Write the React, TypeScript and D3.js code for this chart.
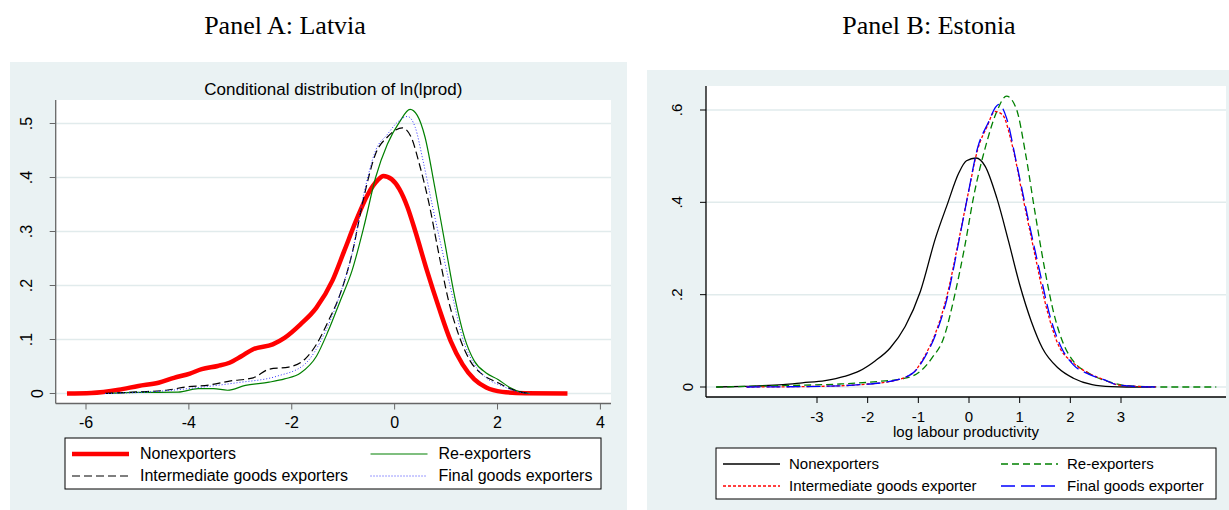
import React from 'react';
import * as d3 from 'd3';

// Panel A: Latvia, conditional distribution of ln(lprod)
const lvNonexporters: [number, number][] = [
  [-6.37, 0], [-5.9, 0.001], [-5.36, 0.007], [-4.98, 0.014], [-4.59, 0.02], [-4.29, 0.029],
  [-3.98, 0.037], [-3.75, 0.045], [-3.44, 0.051], [-3.21, 0.057], [-2.98, 0.069], [-2.75, 0.082],
  [-2.37, 0.091], [-2.14, 0.103], [-1.83, 0.128], [-1.52, 0.159], [-1.21, 0.209], [-0.98, 0.264],
  [-0.75, 0.32], [-0.52, 0.369], [-0.33, 0.395], [-0.22, 0.403], [-0.06, 0.397], [0.09, 0.379],
  [0.25, 0.345], [0.4, 0.301], [0.63, 0.227], [0.86, 0.159], [1.09, 0.097], [1.32, 0.054],
  [1.55, 0.026], [1.78, 0.011], [2.09, 0.003], [2.55, 0.0006], [3.36, 0],
];
const lvReexporters: [number, number][] = [
  [-5.63, 0], [-4.98, 0.002], [-4.21, 0.0025], [-3.82, 0.009], [-3.52, 0.009], [-3.25, 0.006],
  [-2.9, 0.015], [-2.44, 0.021], [-2.14, 0.027], [-1.83, 0.038], [-1.52, 0.069], [-1.29, 0.116],
  [-1.06, 0.171], [-0.83, 0.227], [-0.6, 0.308], [-0.37, 0.4], [-0.14, 0.462], [0.09, 0.502],
  [0.3, 0.526], [0.44, 0.515], [0.59, 0.475], [0.78, 0.382], [0.98, 0.277], [1.17, 0.178],
  [1.36, 0.103], [1.55, 0.06], [1.78, 0.038], [2.01, 0.026], [2.24, 0.011], [2.47, 0.002], [2.63, 0],
];
const lvIntermediate: [number, number][] = [
  [-5.63, 0], [-4.98, 0.003], [-4.44, 0.006], [-4.06, 0.012], [-3.59, 0.016], [-3.21, 0.023],
  [-2.75, 0.029], [-2.44, 0.045], [-2.06, 0.049], [-1.75, 0.063], [-1.52, 0.091], [-1.29, 0.134],
  [-1.06, 0.184], [-0.83, 0.258], [-0.6, 0.363], [-0.37, 0.444], [-0.14, 0.475], [0.02, 0.488],
  [0.15, 0.492], [0.32, 0.475], [0.48, 0.425], [0.67, 0.351], [0.86, 0.258], [1.05, 0.171],
  [1.24, 0.11], [1.47, 0.06], [1.71, 0.035], [2.01, 0.02], [2.24, 0.009], [2.55, 0.001], [2.63, 0],
];
const lvFinal: [number, number][] = [
  [-5.63, 0], [-4.59, 0.004], [-3.82, 0.011], [-3.06, 0.02], [-2.29, 0.032], [-1.75, 0.054],
  [-1.37, 0.11], [-1.06, 0.184], [-0.83, 0.258], [-0.6, 0.369], [-0.37, 0.45], [-0.14, 0.48],
  [0.05, 0.502], [0.25, 0.513], [0.4, 0.493], [0.55, 0.432], [0.74, 0.345], [0.94, 0.258],
  [1.13, 0.178], [1.32, 0.103], [1.55, 0.054], [1.78, 0.029], [2.09, 0.014], [2.4, 0.003], [2.63, 0],
];

// Panel B: Estonia, log labour productivity
const eeNonexporters: [number, number][] = [
  [-4.99, 0], [-4.42, 0.0015], [-3.67, 0.005], [-3.29, 0.009], [-2.84, 0.014], [-2.46, 0.023],
  [-2.16, 0.035], [-1.86, 0.056], [-1.56, 0.084], [-1.26, 0.131], [-0.96, 0.207], [-0.66, 0.323],
  [-0.43, 0.395], [-0.2, 0.464], [-0.05, 0.49], [0.14, 0.496], [0.32, 0.478], [0.55, 0.409],
  [0.78, 0.316], [1.0, 0.222], [1.23, 0.142], [1.45, 0.084], [1.76, 0.041], [2.06, 0.019],
  [2.43, 0.005], [2.81, 0.0007], [3.11, 0], [3.6, 0],
];
const eeReexporters: [number, number][] = [
  [-4.99, 0], [-3.67, 0.003], [-2.54, 0.0065], [-1.79, 0.012], [-1.26, 0.019], [-0.96, 0.034],
  [-0.73, 0.063], [-0.5, 0.106], [-0.28, 0.2], [-0.09, 0.301], [0.1, 0.417], [0.32, 0.518],
  [0.55, 0.597], [0.74, 0.63], [0.93, 0.604], [1.12, 0.503], [1.3, 0.38], [1.49, 0.258],
  [1.68, 0.157], [1.87, 0.092], [2.06, 0.056], [2.36, 0.03], [2.74, 0.012], [3.11, 0.003],
  [3.87, 0], [4.88, 0],
];
const eeIntermediate: [number, number][] = [
  [-4.39, 0], [-2.92, 0.0015], [-2.16, 0.005], [-1.56, 0.012], [-1.11, 0.03], [-0.88, 0.066],
  [-0.66, 0.117], [-0.43, 0.2], [-0.2, 0.319], [-0.02, 0.417], [0.17, 0.514], [0.36, 0.565],
  [0.51, 0.597], [0.66, 0.59], [0.85, 0.525], [1.08, 0.402], [1.3, 0.287], [1.53, 0.171],
  [1.76, 0.092], [2.06, 0.052], [2.36, 0.03], [2.66, 0.016], [2.96, 0.004], [3.72, 0],
];
const eeFinal: [number, number][] = [
  [-4.39, 0], [-2.92, 0.0015], [-2.16, 0.005], [-1.56, 0.012], [-1.11, 0.03], [-0.88, 0.063],
  [-0.66, 0.113], [-0.43, 0.193], [-0.2, 0.316], [-0.02, 0.417], [0.17, 0.518], [0.36, 0.568],
  [0.59, 0.612], [0.74, 0.583], [0.93, 0.489], [1.15, 0.373], [1.38, 0.258], [1.61, 0.149],
  [1.83, 0.084], [2.06, 0.048], [2.36, 0.028], [2.66, 0.016], [2.96, 0.004], [3.49, 0.0003], [3.72, 0],
];

const lvXTicks = [-6, -4, -2, 0, 2, 4];
const lvYTicks = [0, 0.1, 0.2, 0.3, 0.4, 0.5];
const eeXTicks = [-3, -2, -1, 0, 1, 2, 3];
const eeYTicks = [0, 0.2, 0.4, 0.6];

const lvLegend = ['Nonexporters', 'Re-exporters', 'Intermediate goods exporters', 'Final goods exporters'];
const eeLegend = ['Nonexporters', 'Re-exporters', 'Intermediate goods exporter', 'Final goods exporter'];

const BG = '#eaf2f3';
const GRID = '#e1ebec';
const FONT = 'Liberation Sans, Arial, sans-serif';

const fmtY = (v: number) => (v === 0 ? '0' : d3.format('.1f')(v).replace(/^0/, ''));

type Series = { data: [number, number][]; color: string; width: number; dash?: string };

function Panel(props: {
  bg: [number, number, number, number];
  plot: [number, number, number, number];
  x: d3.ScaleLinear<number, number>;
  y: d3.ScaleLinear<number, number>;
  xTicks: number[];
  yTicks: number[];
  series: Series[];
  axisColor: string;
  fs: number;
  title?: string;
  xTitle?: string;
  tickY: number;
  legend: { box: [number, number, number, number]; labels: string[]; textDx: number };
}) {
  const { bg, plot, x, y, series, axisColor, legend, fs } = props;
  const line = d3
    .line<[number, number]>()
    .x((d) => x(d[0]))
    .y((d) => y(d[1]))
    .curve(d3.curveMonotoneX);
  const [bx, by, bw, bh] = legend.box;
  const rowY = [by + 16, by + 38];
  const colX = [bx + 7, bx + bw * 0.57];
  return (
    <g>
      <rect x={bg[0]} y={bg[1]} width={bg[2] - bg[0]} height={bg[3] - bg[1]} fill={BG} />
      <rect x={plot[0]} y={plot[1]} width={plot[2] - plot[0]} height={plot[3] - plot[1]} fill="#fff" />
      {props.yTicks.map((t) => (
        <g key={'y' + t}>
          <line x1={plot[0]} x2={plot[2]} y1={y(t)} y2={y(t)} stroke={GRID} strokeWidth={1.5} />
          <line x1={plot[0] - 6} x2={plot[0]} y1={y(t)} y2={y(t)} stroke={axisColor} strokeWidth={1} />
          <text
            transform={`translate(${plot[0] - (t === 0 ? 13 : 24)},${y(t)}) rotate(-90)`}
            textAnchor="middle"
            fontFamily={FONT}
            fontSize={fs}
            fill="#000"
          >
            {fmtY(t)}
          </text>
        </g>
      ))}
      {series.map((s, i) => (
        <path
          key={i}
          d={line(s.data) || ''}
          fill="none"
          stroke={s.color}
          strokeWidth={s.width}
          strokeDasharray={s.dash}
          strokeLinejoin="round"
        />
      ))}
      <line x1={plot[0]} x2={plot[0]} y1={plot[1]} y2={plot[3]} stroke={axisColor} strokeWidth={1.3} />
      <line x1={plot[0]} x2={plot[2]} y1={plot[3]} y2={plot[3]} stroke={axisColor} strokeWidth={1.3} />
      {props.xTicks.map((t) => (
        <g key={'x' + t}>
          <line x1={x(t)} x2={x(t)} y1={plot[3]} y2={plot[3] + 6} stroke={axisColor} strokeWidth={1} />
          <text x={x(t)} y={props.tickY} textAnchor="middle" fontFamily={FONT} fontSize={fs} fill="#000">
            {t}
          </text>
        </g>
      ))}
      {props.title && (
        <text x={(plot[0] + plot[2]) / 2} y={plot[1] - 5} textAnchor="middle" fontFamily={FONT} fontSize={17}>
          {props.title}
        </text>
      )}
      {props.xTitle && (
        <text x={(plot[0] + plot[2]) / 2} y={plot[3] + 40} textAnchor="middle" fontFamily={FONT} fontSize={fs}>
          {props.xTitle}
        </text>
      )}
      <rect x={bx} y={by} width={bw} height={bh} fill="#fff" stroke="#000" strokeWidth={1} />
      {series.map((s, k) => {
        const cx = colX[k % 2];
        const cy = rowY[Math.floor(k / 2)];
        return (
          <g key={'l' + k}>
            <line x1={cx} x2={cx + 57} y1={cy} y2={cy} stroke={s.color} strokeWidth={s.width} strokeDasharray={s.dash} />
            <text x={cx + legend.textDx} y={cy + 5} fontFamily={FONT} fontSize={fs} fill="#000">
              {legend.labels[k]}
            </text>
          </g>
        );
      })}
    </g>
  );
}

export default function App() {
  const lvX = d3.scaleLinear().domain([-6, 4]).range([86, 600.4]);
  const lvY = d3.scaleLinear().domain([0, 0.5]).range([393.5, 123.5]);
  const eeX = d3.scaleLinear().domain([-3, 3]).range([817, 1121]);
  const eeY = d3.scaleLinear().domain([0, 0.6]).range([387, 110]);

  const lvSeries: Series[] = [
    { data: lvNonexporters, color: '#ff0000', width: 4.5 },
    { data: lvReexporters, color: '#008000', width: 1.2 },
    { data: lvIntermediate, color: '#000000', width: 1.2, dash: '8,4' },
    { data: lvFinal, color: '#3333ff', width: 1, dash: '1,2' },
  ];
  const eeSeries: Series[] = [
    { data: eeNonexporters, color: '#000000', width: 1.3 },
    { data: eeReexporters, color: '#008000', width: 1.3, dash: '7,4' },
    { data: eeIntermediate, color: '#ff0000', width: 1.3, dash: '3,2' },
    { data: eeFinal, color: '#0000ff', width: 1.3, dash: '14,6' },
  ];

  return (
    <svg width={1229} height={510} style={{ position: 'absolute', left: 0, top: 0, background: '#fff' }}>
      <text x={285} y={34} textAnchor="middle" fontFamily="Liberation Serif, Times New Roman, serif" fontSize={26}>
        Panel A: Latvia
      </text>
      <text x={929} y={34} textAnchor="middle" fontFamily="Liberation Serif, Times New Roman, serif" fontSize={26}>
        Panel B: Estonia
      </text>
      <Panel
        bg={[10, 62, 627, 510]}
        plot={[55.7, 100, 611, 403.5]}
        x={lvX}
        y={lvY}
        xTicks={lvXTicks}
        yTicks={lvYTicks}
        series={lvSeries}
        axisColor="#666"
        fs={16}
        title="Conditional distribution of ln(lprod)"
        tickY={428}
        legend={{ box: [65, 438, 536, 51], labels: lvLegend, textDx: 68 }}
      />
      <Panel
        bg={[647, 70, 1229, 510]}
        plot={[706, 86, 1226, 397]}
        x={eeX}
        y={eeY}
        xTicks={eeXTicks}
        yTicks={eeYTicks}
        series={eeSeries}
        axisColor="#000"
        fs={15}
        xTitle="log labour productivity"
        tickY={422}
        legend={{ box: [716, 448, 500, 51], labels: eeLegend, textDx: 66 }}
      />
    </svg>
  );
}
